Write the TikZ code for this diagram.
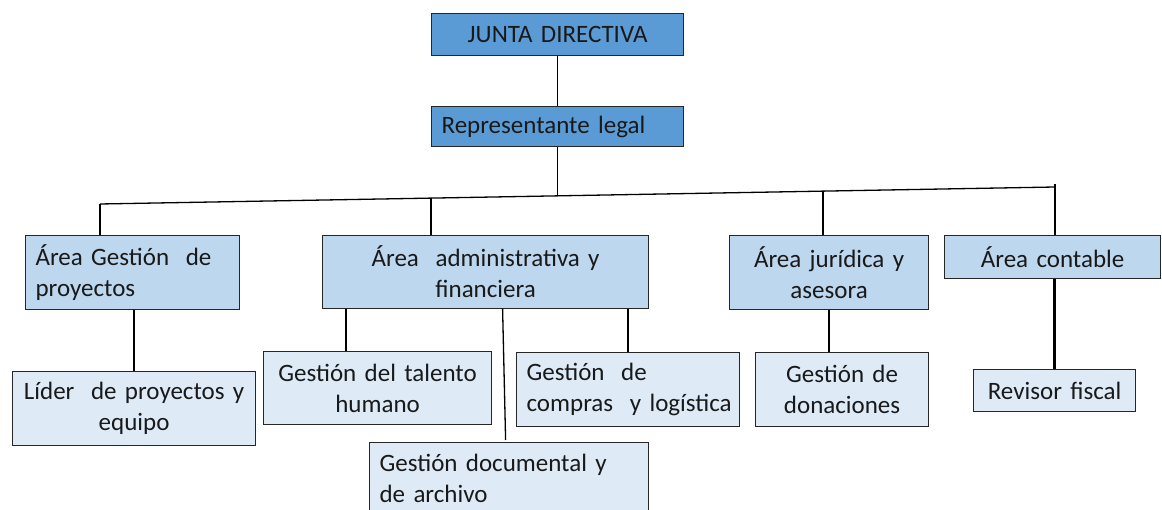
\documentclass[tikz,border=0pt]{standalone}
\usepackage{fontspec}
\setmainfont{Carlito}[WordSpace=0.85]
\usetikzlibrary{calc}
\definecolor{topblue}{HTML}{5B9BD5}
\definecolor{midblue}{HTML}{BDD7EE}
\definecolor{lowblue}{HTML}{DEEBF7}
\hyphenpenalty=10000
\exhyphenpenalty=10000
\begin{document}
\begin{tikzpicture}[x=1pt,y=-1pt,
  box/.style={draw=black!85, line width=1.2pt, rectangle, anchor=north west,
    inner ysep=0pt, font=\fontsize{25}{31}\selectfont, text=black!90},
  lvl0/.style={box, fill=topblue},
  lvl1/.style={box, fill=midblue},
  lvl2/.style={box, fill=lowblue},
  cbox/.style n args={2}{minimum width=#1, minimum height=#2, inner xsep=3pt, text width={#1-6pt}, align=center},
  lbox/.style n args={2}{minimum width=#1, minimum height=#2, inner xsep=10pt, text width={#1-20pt}, align=left},
  conn/.style={draw=black, line width=1.3pt},
  thick conn/.style={draw=black, line width=2.6pt}
]
\useasboundingbox (0,0) rectangle (1162,510);
\clip (0,0) rectangle (1162,510);

% top level
\node[lvl0, cbox={252pt}{42pt}] (jd) at (431,13) {JUNTA~DIRECTIVA};
\node[lvl0, lbox={252pt}{40pt}] (rl) at (431,106) {Representante~legal};

% second level
\node[lvl1, lbox={214pt}{74pt}] (agp) at (25,235) {Área~Gestión~~de\\proyectos};
\node[lvl1, cbox={326pt}{73pt}] (aaf) at (322,235) {Área~~administrativa~y\\financiera};
\node[lvl1, cbox={199pt}{74pt}] (ajr) at (729,235) {Área~jurídica~y\\asesora};
\node[lvl1, cbox={216pt}{43pt}] (ac) at (944,235) {Área~contable};

% third level
\node[lvl2, cbox={243pt}{74pt}] (lpe) at (12,371) {Líder~~de~proyectos~y\\equipo};
\node[lvl2, cbox={228pt}{73pt}] (gth) at (263,351) {Gestión~del~talento\\humano};
\node[lvl2, lbox={223pt}{74pt}] (gcl) at (516,352) {\mbox{Gestión~~de}\\\mbox{compras~~y~logística}};
\node[lvl2, lbox={279pt}{72pt}] (gda) at (369,442) {Gestión~documental~y\\de~archivo};
\node[lvl2, cbox={173pt}{74pt}] (gdn) at (755,352) {Gestión~de\\donaciones};
\node[lvl2, cbox={162pt}{42pt}] (rf) at (973,369) {Revisor~fiscal};

% top connectors
\draw[conn] (jd.south) -- (rl.north);
\coordinate (hl) at (100,204);
\coordinate (hr) at (1055,187);
\draw[conn] (hl) -- (hr);
\coordinate (hc) at ($(hl)!(rl.south)!(hr)$);
\draw[conn] (rl.south) -- (rl.south |- hc);
\coordinate (d2) at ($(hl)!0.3466!(hr)$);
\coordinate (d3) at ($(hl)!0.7571!(hr)$);
\draw[conn] (hl) -- (hl |- agp.north);
\draw[conn] (d2) -- (d2 |- aaf.north);
\draw[conn] (d3) -- (d3 |- ajr.north);
\draw[conn] ($(hr)+(0,-3)$) -- (hr |- ac.north);

% lower connectors
\draw[conn] (lpe.north) -- (lpe.north |- agp.south);
\coordinate (t1) at ($(gth.north west)+(83,0)$);
\draw[conn] (t1) -- (t1 |- aaf.south);
\coordinate (t2) at ($(gcl.north west)+(112,0)$);
\draw[conn] (t2) -- (t2 |- aaf.south);
\draw[conn] ($(aaf.south)+(17,0)$) -- ($(gda.north)+(-3.5,-2)$);
\draw[conn] (ajr.south) -- (ajr.south |- gdn.north);
\draw[thick conn] (rf.north) -- (rf.north |- ac.south);
\end{tikzpicture}
\end{document}
